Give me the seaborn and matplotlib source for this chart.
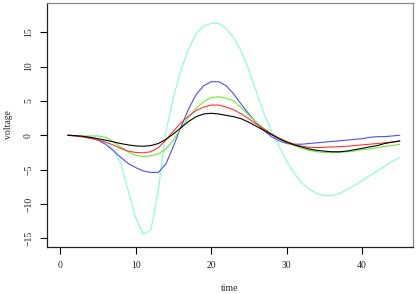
import numpy as np
import pandas as pd
import seaborn as sns
import matplotlib.pyplot as plt

# time axis and the five recorded traces
time = list(range(1, 46))

v_cyan = [0, -0.05, -0.15, -0.3, -0.5, -0.9, -2.0, -4.0, -8.0, -12.0, -14.4, -13.8, -8.0, 0.5,
          5.5, 9.5, 12.5, 14.8, 15.9, 16.3, 16.3, 15.5, 14.2, 12.2, 9.5, 6.3, 3.2, 0.6, -1.6,
          -3.8, -5.5, -6.9, -7.8, -8.5, -8.8, -8.8, -8.5, -7.9, -7.3, -6.6, -5.9, -5.2, -4.5,
          -3.8, -3.2]
v_blue = [0, -0.1, -0.2, -0.4, -0.7, -1.3, -2.2, -3.2, -4.1, -4.7, -5.2, -5.4, -5.4, -4.2,
          -1.6, 1.2, 3.8, 5.9, 7.2, 7.8, 7.8, 7.2, 6.0, 4.5, 3.1, 1.8, 0.7, -0.2, -0.8, -1.2,
          -1.3, -1.3, -1.2, -1.1, -1.0, -0.9, -0.8, -0.7, -0.6, -0.5, -0.3, -0.2, -0.2, -0.1, 0]
v_green = [0, -0.05, -0.1, -0.1, -0.1, -0.3, -0.9, -1.7, -2.4, -2.9, -3.1, -3.0, -2.7, -2.0,
           -0.7, 1.0, 2.6, 3.9, 4.9, 5.5, 5.6, 5.4, 5.0, 4.0, 2.9, 1.9, 1.0, 0.2, -0.5, -1.1,
           -1.5, -1.9, -2.2, -2.4, -2.5, -2.5, -2.5, -2.4, -2.3, -2.1, -2.0, -1.8, -1.6, -1.5,
           -1.3]
v_red = [0, -0.1, -0.25, -0.45, -0.7, -1.0, -1.4, -1.9, -2.3, -2.5, -2.55, -2.4, -1.8, -0.7,
         0.6, 1.8, 2.8, 3.6, 4.1, 4.4, 4.4, 4.1, 3.7, 3.1, 2.4, 1.6, 0.9, 0.2, -0.4, -0.9, -1.3,
         -1.6, -1.75, -1.8, -1.75, -1.7, -1.65, -1.6, -1.5, -1.4, -1.3, -1.2, -1.1, -1.0, -0.9]
v_black = [0, -0.05, -0.15, -0.3, -0.5, -0.7, -0.95, -1.2, -1.4, -1.55, -1.6, -1.5, -1.2, -0.6,
           0.2, 1.1, 2.0, 2.7, 3.1, 3.2, 3.1, 2.9, 2.7, 2.4, 1.9, 1.3, 0.7, 0.1, -0.5, -1.0,
           -1.4, -1.7, -2.0, -2.2, -2.3, -2.4, -2.4, -2.3, -2.1, -1.9, -1.7, -1.5, -1.2, -1.0,
           -0.8]

series = {'cyan': v_cyan, 'blue': v_blue, 'green': v_green, 'red': v_red, 'black': v_black}
palette = {'cyan': '#7fffd4', 'blue': '#4d4dff', 'green': '#66ee33',
           'red': '#ff3333', 'black': '#000000'}

df = pd.concat([pd.DataFrame({'time': time, 'voltage': v, 'trace': k})
                for k, v in series.items()], ignore_index=True)

sns.set_style('white')
plt.rcParams['font.family'] = ['Liberation Serif', 'DejaVu Serif']

fig = plt.figure(figsize=(4.17, 2.94), dpi=100)
ax = fig.add_axes([47 / 417, 47 / 294, 366 / 417, 244 / 294])
sns.lineplot(data=df, x='time', y='voltage', hue='trace', palette=palette,
             linewidth=0.8, legend=False, ax=ax)

ax.set_xlim(-1.75, 46.75)
ax.set_ylim(-16.26, 19.25)
ax.set_xticks([0, 10, 20, 30, 40])
ax.set_yticks([-15, -10, -5, 0, 5, 10, 15])
ax.tick_params(direction='out', length=5, width=0.8, labelsize=7, color='black', pad=5)
ax.tick_params(axis='x', bottom=True)
ax.tick_params(axis='y', left=True, labelrotation=90)
for lab in ax.get_yticklabels():
    lab.set_va('center')
ax.set_xlabel('time', fontsize=7, labelpad=10)
ax.set_ylabel('voltage', fontsize=7, labelpad=8)

for s in ['left', 'bottom']:
    ax.spines[s].set_color('#222222')
    ax.spines[s].set_linewidth(0.9)
for s in ['top', 'right']:
    ax.spines[s].set_color('#888888')
    ax.spines[s].set_linewidth(0.9)

fig.savefig('out.png', dpi=100)
